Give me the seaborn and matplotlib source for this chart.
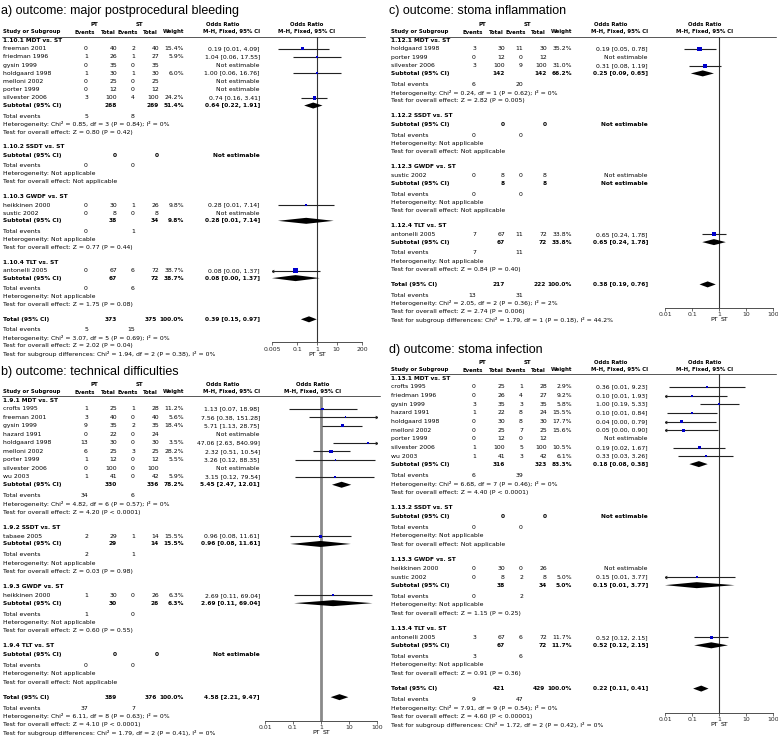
import numpy as np
import pandas as pd
import matplotlib
matplotlib.use("Agg")
import matplotlib.pyplot as plt
from matplotlib.ticker import NullLocator
import seaborn as sns

sns.set_style("white")
plt.rcParams['font.family'] = ['DejaVu Sans']

NA = np.nan

# ================= panel a : major postprocedural bleeding =================
a_title = "a) outcome: major postprocedural bleeding"
a_groups = ["1.10.1 MDT vs. ST", "1.10.2 SSDT vs. ST", "1.10.3 GWDF vs. ST", "1.10.4 TLT vs. ST"]
a_study = ["freeman 2001", "friedman 1996", "gysin 1999", "holdgaard 1998", "melloni 2002",
           "porter 1999", "silvester 2006", "heikkinen 2000", "sustic 2002", "antonelli 2005"]
a_group = [0, 0, 0, 0, 0, 0, 0, 2, 2, 3]
a_pt_ev = [0, 1, 0, 1, 0, 0, 3, 0, 0, 0]
a_pt_n = [40, 26, 35, 30, 25, 12, 100, 30, 8, 67]
a_st_ev = [2, 1, 0, 1, 0, 0, 4, 1, 0, 6]
a_st_n = [40, 27, 35, 30, 25, 12, 100, 26, 8, 72]
a_w = [15.4, 5.9, NA, 6.0, NA, NA, 24.2, 9.8, NA, 38.7]
a_or = [0.19, 1.04, NA, 1.00, NA, NA, 0.74, 0.28, NA, 0.08]
a_lo = [0.01, 0.06, NA, 0.06, NA, NA, 0.16, 0.01, NA, 0.0045]
a_hi = [4.09, 17.55, NA, 16.76, NA, NA, 3.41, 7.14, NA, 1.37]
a_sub_pt_n = [268, 0, 38, 67]
a_sub_st_n = [269, 0, 34, 72]
a_sub_w = [51.4, NA, 9.8, 38.7]
a_sub_or = [0.64, NA, 0.28, 0.08]
a_sub_lo = [0.22, NA, 0.01, 0.0045]
a_sub_hi = [1.91, NA, 7.14, 1.37]
a_sub_pt_ev = [5, 0, 0, 0]
a_sub_st_ev = [8, 0, 1, 6]
a_sub_het = ["Heterogeneity: Chi² = 0.85, df = 3 (P = 0.84); I² = 0%",
             "Heterogeneity: Not applicable", "Heterogeneity: Not applicable",
             "Heterogeneity: Not applicable"]
a_sub_z = ["Test for overall effect: Z = 0.80 (P = 0.42)", "Test for overall effect: Not applicable",
           "Test for overall effect: Z = 0.77 (P = 0.44)", "Test for overall effect: Z = 1.75 (P = 0.08)"]
a_tot = [373, 375, 100.0, 0.39, 0.15, 0.97]
a_tot_ev = [5, 15]
a_tot_het = "Heterogeneity: Chi² = 3.07, df = 5 (P = 0.69); I² = 0%"
a_tot_z = "Test for overall effect: Z = 2.02 (P = 0.04)"
a_tot_sub = "Test for subgroup differences: Chi² = 1.94, df = 2 (P = 0.38), I² = 0%"
a_ticks = [0.005, 0.1, 1, 10, 200]
a_ticklabels = ["0.005", "0.1", "1", "10", "200"]

# ================= panel b : technical difficulties =================
b_title = "b) outcome: technical difficulties"
b_groups = ["1.9.1 MDT vs. ST", "1.9.2 SSDT vs. ST", "1.9.3 GWDF vs. ST", "1.9.4 TLT vs. ST"]
b_study = ["crofts 1995", "freeman 2001", "gysin 1999", "hazard 1991", "holdgaard 1998", "melloni 2002",
           "porter 1999", "silvester 2006", "wu 2003", "tabaee 2005", "heikkinen 2000"]
b_group = [0, 0, 0, 0, 0, 0, 0, 0, 0, 1, 2]
b_pt_ev = [1, 3, 9, 0, 13, 6, 1, 0, 1, 2, 1]
b_pt_n = [25, 40, 35, 22, 30, 25, 12, 100, 41, 29, 30]
b_st_ev = [1, 0, 2, 0, 0, 3, 0, 0, 0, 1, 0]
b_st_n = [28, 40, 35, 24, 30, 25, 12, 100, 42, 14, 26]
b_w = [11.2, 5.6, 18.4, NA, 3.5, 28.2, 5.5, NA, 5.9, 15.5, 6.3]
b_or = [1.13, 7.56, 5.71, NA, 47.06, 2.32, 3.26, NA, 3.15, 0.96, 2.69]
b_lo = [0.07, 0.38, 1.13, NA, 2.63, 0.51, 0.12, NA, 0.12, 0.08, 0.11]
b_hi = [18.98, 151.28, 28.75, NA, 840.99, 10.54, 88.35, NA, 79.54, 11.61, 69.04]
b_sub_pt_n = [330, 29, 30, 0]
b_sub_st_n = [336, 14, 26, 0]
b_sub_w = [78.2, 15.5, 6.3, NA]
b_sub_or = [5.45, 0.96, 2.69, NA]
b_sub_lo = [2.47, 0.08, 0.11, NA]
b_sub_hi = [12.01, 11.61, 69.04, NA]
b_sub_pt_ev = [34, 2, 1, 0]
b_sub_st_ev = [6, 1, 0, 0]
b_sub_het = ["Heterogeneity: Chi² = 4.82, df = 6 (P = 0.57); I² = 0%",
             "Heterogeneity: Not applicable", "Heterogeneity: Not applicable",
             "Heterogeneity: Not applicable"]
b_sub_z = ["Test for overall effect: Z = 4.20 (P < 0.0001)", "Test for overall effect: Z = 0.03 (P = 0.98)",
           "Test for overall effect: Z = 0.60 (P = 0.55)", "Test for overall effect: Not applicable"]
b_tot = [389, 376, 100.0, 4.58, 2.21, 9.47]
b_tot_ev = [37, 7]
b_tot_het = "Heterogeneity: Chi² = 6.11, df = 8 (P = 0.63); I² = 0%"
b_tot_z = "Test for overall effect: Z = 4.10 (P < 0.0001)"
b_tot_sub = "Test for subgroup differences: Chi² = 1.79, df = 2 (P = 0.41), I² = 0%"
b_ticks = [0.01, 0.1, 1, 10, 100]
b_ticklabels = ["0.01", "0.1", "1", "10", "100"]

# ================= panel c : stoma inflammation =================
c_title = "c) outcome: stoma inflammation"
c_groups = ["1.12.1 MDT vs. ST", "1.12.2 SSDT vs. ST", "1.12.3 GWDF vs. ST", "1.12.4 TLT vs. ST"]
c_study = ["holdgaard 1998", "porter 1999", "silvester 2006", "sustic 2002", "antonelli 2005"]
c_group = [0, 0, 0, 2, 3]
c_pt_ev = [3, 0, 3, 0, 7]
c_pt_n = [30, 12, 100, 8, 67]
c_st_ev = [11, 0, 9, 0, 11]
c_st_n = [30, 12, 100, 8, 72]
c_w = [35.2, NA, 31.0, NA, 33.8]
c_or = [0.19, NA, 0.31, NA, 0.65]
c_lo = [0.05, NA, 0.08, NA, 0.24]
c_hi = [0.78, NA, 1.19, NA, 1.78]
c_sub_pt_n = [142, 0, 8, 67]
c_sub_st_n = [142, 0, 8, 72]
c_sub_w = [66.2, NA, NA, 33.8]
c_sub_or = [0.25, NA, NA, 0.65]
c_sub_lo = [0.09, NA, NA, 0.24]
c_sub_hi = [0.65, NA, NA, 1.78]
c_sub_pt_ev = [6, 0, 0, 7]
c_sub_st_ev = [20, 0, 0, 11]
c_sub_het = ["Heterogeneity: Chi² = 0.24, df = 1 (P = 0.62); I² = 0%",
             "Heterogeneity: Not applicable", "Heterogeneity: Not applicable",
             "Heterogeneity: Not applicable"]
c_sub_z = ["Test for overall effect: Z = 2.82 (P = 0.005)", "Test for overall effect: Not applicable",
           "Test for overall effect: Not applicable", "Test for overall effect: Z = 0.84 (P = 0.40)"]
c_tot = [217, 222, 100.0, 0.38, 0.19, 0.76]
c_tot_ev = [13, 31]
c_tot_het = "Heterogeneity: Chi² = 2.05, df = 2 (P = 0.36); I² = 2%"
c_tot_z = "Test for overall effect: Z = 2.74 (P = 0.006)"
c_tot_sub = "Test for subgroup differences: Chi² = 1.79, df = 1 (P = 0.18), I² = 44.2%"
c_ticks = [0.01, 0.1, 1, 10, 100]
c_ticklabels = ["0.01", "0.1", "1", "10", "100"]

# ================= panel d : stoma infection =================
d_title = "d) outcome: stoma infection"
d_groups = ["1.13.1 MDT vs. ST", "1.13.2 SSDT vs. ST", "1.13.3 GWDF vs. ST", "1.13.4 TLT vs. ST"]
d_study = ["crofts 1995", "friedman 1996", "gysin 1999", "hazard 1991", "holdgaard 1998", "melloni 2002",
           "porter 1999", "silvester 2006", "wu 2003", "heikkinen 2000", "sustic 2002", "antonelli 2005"]
d_group = [0, 0, 0, 0, 0, 0, 0, 0, 0, 2, 2, 3]
d_pt_ev = [0, 0, 3, 1, 0, 0, 0, 1, 1, 0, 0, 3]
d_pt_n = [25, 26, 35, 22, 30, 25, 12, 100, 41, 30, 8, 67]
d_st_ev = [1, 4, 3, 8, 8, 7, 0, 5, 3, 0, 2, 6]
d_st_n = [28, 27, 35, 24, 30, 25, 12, 100, 42, 26, 8, 72]
d_w = [2.9, 9.2, 5.8, 15.5, 17.7, 15.6, NA, 10.5, 6.1, NA, 5.0, 11.7]
d_or = [0.36, 0.10, 1.00, 0.10, 0.04, 0.05, NA, 0.19, 0.33, NA, 0.15, 0.52]
d_lo = [0.014, 0.006, 0.19, 0.012, 0.002, 0.003, NA, 0.02, 0.03, NA, 0.006, 0.12]
d_hi = [9.23, 1.93, 5.33, 0.84, 0.79, 0.90, NA, 1.67, 3.26, NA, 3.77, 2.15]
d_sub_pt_n = [316, 0, 38, 67]
d_sub_st_n = [323, 0, 34, 72]
d_sub_w = [83.3, NA, 5.0, 11.7]
d_sub_or = [0.18, NA, 0.15, 0.52]
d_sub_lo = [0.08, NA, 0.006, 0.12]
d_sub_hi = [0.38, NA, 3.77, 2.15]
d_sub_pt_ev = [6, 0, 0, 3]
d_sub_st_ev = [39, 0, 2, 6]
d_sub_het = ["Heterogeneity: Chi² = 6.68, df = 7 (P = 0.46); I² = 0%",
             "Heterogeneity: Not applicable", "Heterogeneity: Not applicable",
             "Heterogeneity: Not applicable"]
d_sub_z = ["Test for overall effect: Z = 4.40 (P < 0.0001)", "Test for overall effect: Not applicable",
           "Test for overall effect: Z = 1.15 (P = 0.25)", "Test for overall effect: Z = 0.91 (P = 0.36)"]
d_tot = [421, 429, 100.0, 0.22, 0.11, 0.41]
d_tot_ev = [9, 47]
d_tot_het = "Heterogeneity: Chi² = 7.91, df = 9 (P = 0.54); I² = 0%"
d_tot_z = "Test for overall effect: Z = 4.60 (P < 0.00001)"
d_tot_sub = "Test for subgroup differences: Chi² = 1.72, df = 2 (P = 0.42), I² = 0%"
d_ticks = [0.01, 0.1, 1, 10, 100]
d_ticklabels = ["0.01", "0.1", "1", "10", "100"]


def pack(p):
    g = globals()
    keys = ["title", "groups", "study", "group", "pt_ev", "pt_n", "st_ev", "st_n", "w", "or", "lo", "hi",
            "sub_pt_n", "sub_st_n", "sub_w", "sub_or", "sub_lo", "sub_hi", "sub_pt_ev", "sub_st_ev",
            "sub_het", "sub_z", "tot", "tot_ev", "tot_het", "tot_z", "tot_sub", "ticks", "ticklabels"]
    return {k: g[p + "_" + k] for k in keys}


# ---------------- layout (pixels) ----------------
W, H = 778, 738
FS = 4.4      # normal table text
FSB = 4.2     # bold table text
FSH = 3.9     # bold column headers
TFS = 9.0
BLUE = "#0000CC"
LINEC = "#222222"

LAYOUT = {
    "a": dict(ox=0, title_y=11, pt_y=24, hdr_y=32, line_y=36.5, first=40, last=354,
              px0=272, px1=362, plot_hdr=307, xlim=(0.005, 200), vcolor="#333333", vlw=0.8),
    "b": dict(ox=0, title_y=372, pt_y=384, hdr_y=392, line_y=396, first=400, last=733,
              px0=265, px1=377, plot_hdr=313, xlim=(0.01, 100), vcolor="#8a8a8a", vlw=2.0),
    "c": dict(ox=388, title_y=11, pt_y=24, hdr_y=32, line_y=36.5, first=40, last=320,
              px0=277, px1=385, plot_hdr=317, xlim=(0.01, 100), vcolor="#333333", vlw=0.8),
    "d": dict(ox=388, title_y=350, pt_y=362, hdr_y=370, line_y=374, first=378, last=725,
              px0=277, px1=385, plot_hdr=317, xlim=(0.01, 100), vcolor="#333333", vlw=0.8),
}
COL = dict(study=3, pt_ev=88, pt_n=117, st_ev=135, st_n=159, w=184, orr=260,
           h_pt=95, h_ptn=116, h_st=138, h_stn=158, h_w=184, h_or=223, pt_c=94, st_c=139)

fig = plt.figure(figsize=(W / 100, H / 100), dpi=100)
bg = fig.add_axes([0, 0, 1, 1])
bg.set_xlim(0, W)
bg.set_ylim(H, 0)
bg.axis("off")


def T(x, y, s, ha="left", bold=False, size=None, family=None):
    kw = {}
    if family:
        kw["family"] = family
    if size is None:
        size = FSB if bold else FS
    bg.text(x, y, s, ha=ha, va="center", fontsize=size,
            fontweight="bold" if bold else "normal", color="black", **kw)


def fmt_or(o, l, h):
    return f"{o:.2f} [{l:.2f}, {h:.2f}]"


def layout_rows(n_groups, group_of_study, first_y, last_y):
    seq = []
    for g in range(n_groups):
        seq.append(("grp", g, 0.0 if g == 0 else 14.5))
        members = [i for i, gg in enumerate(group_of_study) if gg == g]
        for k, i in enumerate(members):
            seq.append(("study", i, 8.5 if k == 0 else 8.2))
        seq.append(("sub", g, 7.5 if members else 8.5))
        seq.append(("te", g, 10.5))
        seq.append(("het", g, 8.0))
        seq.append(("z", g, 8.0))
    seq += [("tot", 0, 14.5), ("tte", 0, 10.5), ("thet", 0, 8.0), ("tz", 0, 8.0), ("tsub", 0, 8.0)]
    cum = np.cumsum([s[2] for s in seq])
    scale = (last_y - first_y) / cum[-1]
    ys = first_y + cum * scale
    return [(k, i, y) for (k, i, _), y in zip(seq, ys)]


def draw_panel(P, L):
    ox = L["ox"]
    X = lambda v: ox + v
    # titles and headers
    T(ox + 1, L["title_y"], P["title"], size=TFS, family=["Liberation Sans", "DejaVu Sans"])
    T(X(COL["pt_c"]), L["pt_y"], "PT", ha="center", bold=True, size=FSH)
    T(X(COL["st_c"]), L["pt_y"], "ST", ha="center", bold=True, size=FSH)
    T(X(COL["h_or"]), L["pt_y"], "Odds Ratio", ha="center", bold=True, size=FSH)
    T(X(L["plot_hdr"]), L["pt_y"], "Odds Ratio", ha="center", bold=True, size=FSH)
    hy = L["hdr_y"]
    T(X(COL["study"]), hy, "Study or Subgroup", bold=True, size=FSH)
    T(X(COL["h_pt"]), hy, "Events", ha="right", bold=True, size=FSH)
    T(X(COL["h_ptn"]), hy, "Total", ha="right", bold=True, size=FSH)
    T(X(COL["h_st"]), hy, "Events", ha="right", bold=True, size=FSH)
    T(X(COL["h_stn"]), hy, "Total", ha="right", bold=True, size=FSH)
    T(X(COL["h_w"]), hy, "Weight", ha="right", bold=True, size=FSH)
    T(X(COL["orr"]), hy, "M-H, Fixed, 95% CI", ha="right", bold=True, size=FSH)
    T(X(L["plot_hdr"]), hy, "M-H, Fixed, 95% CI", ha="center", bold=True, size=FSH)
    bg.plot([X(2), X(L["px1"] + 3)], [L["line_y"], L["line_y"]], color="#555555", lw=0.7)

    rows = layout_rows(len(P["groups"]), P["group"], L["first"], L["last"])
    ypos = {}
    for kind, i, y in rows:
        ypos[(kind, i)] = y
        if kind == "grp":
            T(X(COL["study"]), y, P["groups"][i], bold=True)
        elif kind == "study":
            T(X(COL["study"]), y, P["study"][i])
            T(X(COL["pt_ev"]), y, str(P["pt_ev"][i]), ha="right")
            T(X(COL["pt_n"]), y, str(P["pt_n"][i]), ha="right")
            T(X(COL["st_ev"]), y, str(P["st_ev"][i]), ha="right")
            T(X(COL["st_n"]), y, str(P["st_n"][i]), ha="right")
            if np.isfinite(P["or"][i]):
                T(X(COL["w"]), y, f"{P['w'][i]:.1f}%", ha="right")
                T(X(COL["orr"]), y, fmt_or(P["or"][i], P["lo"][i], P["hi"][i]), ha="right")
            else:
                T(X(COL["orr"]), y, "Not estimable", ha="right")
        elif kind == "sub":
            T(X(COL["study"]), y, "Subtotal (95% CI)", bold=True)
            T(X(COL["pt_n"]), y, str(P["sub_pt_n"][i]), ha="right", bold=True)
            T(X(COL["st_n"]), y, str(P["sub_st_n"][i]), ha="right", bold=True)
            if np.isfinite(P["sub_or"][i]):
                T(X(COL["w"]), y, f"{P['sub_w'][i]:.1f}%", ha="right", bold=True)
                T(X(COL["orr"]), y, fmt_or(P["sub_or"][i], P["sub_lo"][i], P["sub_hi"][i]),
                  ha="right", bold=True)
            else:
                T(X(COL["orr"]), y, "Not estimable", ha="right", bold=True)
        elif kind == "te":
            T(X(COL["study"]), y, "Total events")
            T(X(COL["pt_ev"]), y, str(P["sub_pt_ev"][i]), ha="right")
            T(X(COL["st_ev"]), y, str(P["sub_st_ev"][i]), ha="right")
        elif kind == "het":
            T(X(COL["study"]), y, P["sub_het"][i])
        elif kind == "z":
            T(X(COL["study"]), y, P["sub_z"][i])
        elif kind == "tot":
            t = P["tot"]
            T(X(COL["study"]), y, "Total (95% CI)", bold=True)
            T(X(COL["pt_n"]), y, str(t[0]), ha="right", bold=True)
            T(X(COL["st_n"]) - 1.5, y, str(t[1]), ha="right", bold=True)
            T(X(COL["w"]), y, f"{t[2]:.1f}%", ha="right", bold=True)
            T(X(COL["orr"]), y, fmt_or(t[3], t[4], t[5]), ha="right", bold=True)
        elif kind == "tte":
            T(X(COL["study"]), y, "Total events")
            T(X(COL["pt_ev"]), y, str(P["tot_ev"][0]), ha="right")
            T(X(COL["st_ev"]), y, str(P["tot_ev"][1]), ha="right")
        elif kind == "thet":
            T(X(COL["study"]), y, P["tot_het"])
        elif kind == "tz":
            T(X(COL["study"]), y, P["tot_z"])
        elif kind == "tsub":
            T(X(COL["study"]), y, P["tot_sub"])

    # ---------- forest plot axes ----------
    axis_y = ypos[("thet", 0)] + 4.5
    top_y = L["line_y"]
    fax = fig.add_axes([X(L["px0"]) / W, 1 - axis_y / H, (L["px1"] - L["px0"]) / W, (axis_y - top_y) / H])
    fax.patch.set_alpha(0)
    fax.set_xscale("log")
    xmin, xmax = L["xlim"]

    df = pd.DataFrame({"or": P["or"], "lo": P["lo"], "hi": P["hi"], "w": P["w"],
                       "y": [ypos[("study", i)] for i in range(len(P["study"]))]})
    df = df.dropna().reset_index(drop=True)
    for _, r in df.iterrows():
        fax.hlines(r["y"], max(r["lo"], xmin), min(r["hi"], xmax), color=LINEC, lw=0.8)
        if r["lo"] < xmin:
            fax.plot([xmin], [r["y"]], marker="<", ms=2.6, color=LINEC, mew=0)
        if r["hi"] > xmax:
            fax.plot([xmax], [r["y"]], marker=">", ms=2.6, color=LINEC, mew=0)
    side_pt = 0.72 * np.sqrt(df["w"].to_numpy()) * 0.72
    sns.scatterplot(data=df, x="or", y="y", marker="s", color=BLUE, s=side_pt ** 2,
                    linewidth=0, ax=fax, legend=False, zorder=3)

    dh = 3.0
    dia = [(P["sub_or"][g], P["sub_lo"][g], P["sub_hi"][g], ypos[("sub", g)])
           for g in range(len(P["groups"])) if np.isfinite(P["sub_or"][g])]
    dia.append((P["tot"][3], P["tot"][4], P["tot"][5], ypos[("tot", 0)]))
    for o, l, h, y in dia:
        fax.fill([max(l, xmin), o, min(h, xmax), o], [y, y - dh, y, y + dh], color="black", lw=0, zorder=3)

    fax.axvline(1, color=L["vcolor"], lw=L["vlw"], zorder=1)
    fax.set_xlim(xmin, xmax)
    fax.set_ylim(axis_y, top_y)
    fax.set_xlabel("")
    fax.set_ylabel("")
    fax.set_yticks([])
    fax.set_xticks(P["ticks"])
    fax.set_xticklabels(P["ticklabels"])
    fax.xaxis.set_minor_locator(NullLocator())
    fax.tick_params(axis="x", labelsize=FS, length=2.0, width=0.5, pad=1.0, direction="out",
                    color="#333333", bottom=True)
    for s in ["top", "left", "right"]:
        fax.spines[s].set_visible(False)
    fax.spines["bottom"].set_linewidth(0.6)
    fax.spines["bottom"].set_color("#333333")

    one_x = X(L["px0"]) + (L["px1"] - L["px0"]) * (0 - np.log10(xmin)) / (np.log10(xmax) - np.log10(xmin))
    T(one_x - 1.5, axis_y + 12, "PT", ha="right")
    T(one_x + 1.5, axis_y + 12, "ST", ha="left")


for key in ["a", "b", "c", "d"]:
    draw_panel(pack(key), LAYOUT[key])

fig.savefig("out.png", dpi=100)
